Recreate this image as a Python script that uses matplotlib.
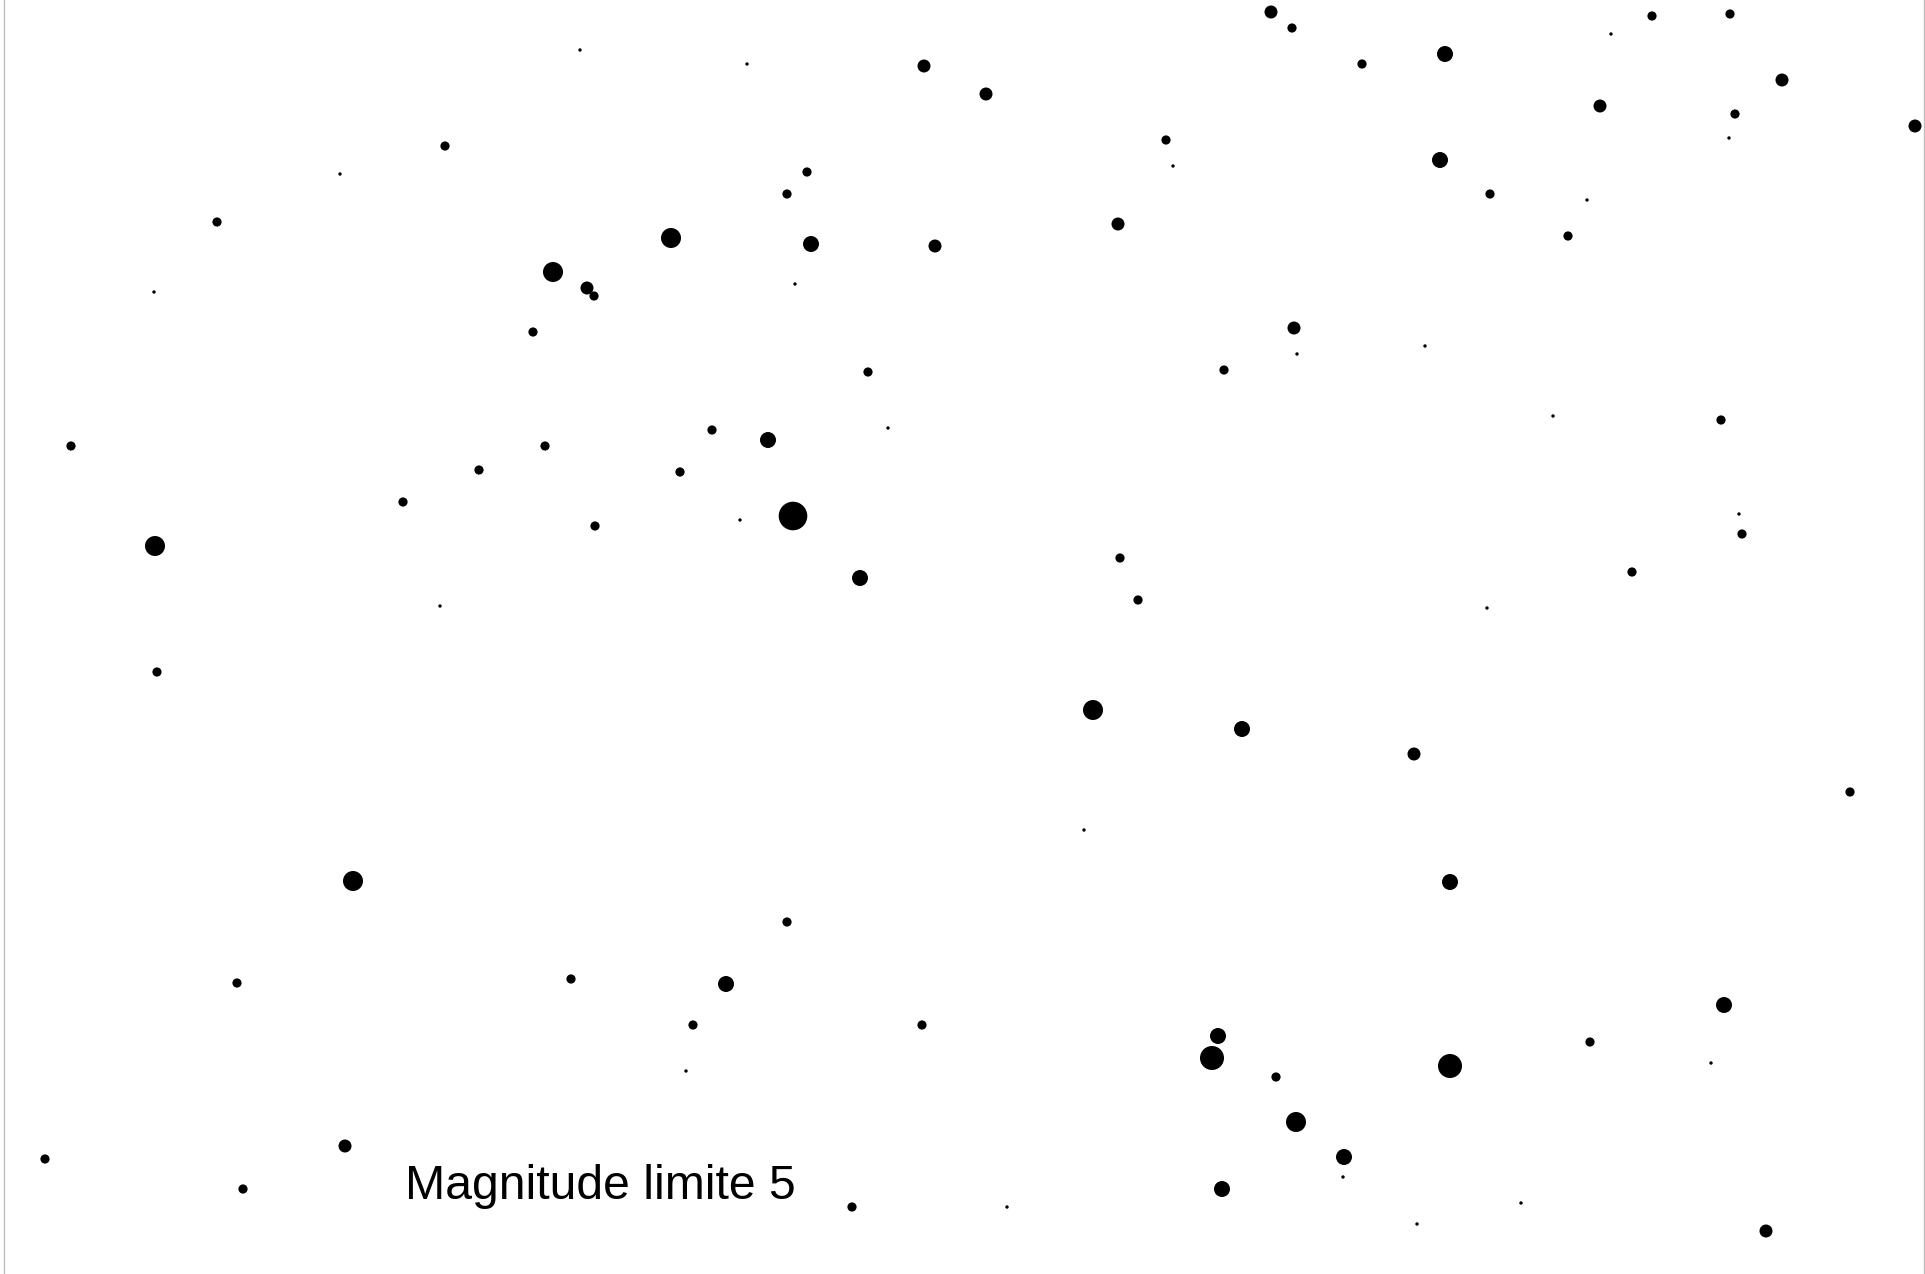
import numpy as np
import matplotlib
matplotlib.use("Agg")
import matplotlib.pyplot as plt

# Star positions (chart pixel coordinates, y downward) and magnitudes
star_x = [580, 445, 340, 217, 553, 587, 594, 154, 533, 71, 545, 479, 403, 595, 155, 440,
          1271, 747, 924, 986, 1166, 1173, 807, 787, 1118, 671, 811, 935, 795, 868, 1224, 712,
          768, 888, 680, 740, 793, 1120, 860, 1138,
          1292, 1362, 1445, 1611, 1652, 1730, 1782, 1600, 1735, 1729, 1915, 1440, 1490, 1587,
          1568, 1294, 1297, 1425, 1553, 1721, 1739, 1742, 1632, 1487,
          157, 353, 237, 571, 45, 345, 243,
          1093, 1242, 1084, 787, 726, 693, 922, 686, 1218, 1212, 1276, 1222, 852, 1007,
          1414, 1850, 1450, 1724, 1590, 1711, 1450, 1296, 1344, 1343, 1521, 1417, 1766]
star_y = [50, 146, 174, 222, 272, 288, 296, 292, 332, 446, 446, 470, 502, 526, 546, 606,
          12, 64, 66, 94, 140, 166, 172, 194, 224, 238, 244, 246, 284, 372, 370, 430,
          440, 428, 472, 520, 516, 558, 578, 600,
          28, 64, 54, 34, 16, 14, 80, 106, 114, 138, 126, 160, 194, 200,
          236, 328, 354, 346, 416, 420, 514, 534, 572, 608,
          672, 881, 983, 979, 1159, 1146, 1189,
          710, 729, 830, 922, 984, 1025, 1025, 1071, 1036, 1058, 1077, 1189, 1207, 1207,
          754, 792, 882, 1005, 1042, 1063, 1066, 1122, 1157, 1177, 1203, 1224, 1231]
star_mag = [5, 4, 5, 4, 1, 3, 4, 5, 4, 4, 4, 4, 4, 4, 1, 5,
            3, 5, 3, 3, 4, 5, 4, 4, 3, 1, 2, 3, 5, 4, 4, 4,
            2, 5, 4, 5, 0, 4, 2, 4,
            4, 4, 2, 5, 4, 4, 3, 3, 4, 5, 3, 2, 4, 5,
            4, 3, 5, 5, 5, 4, 5, 4, 4, 5,
            4, 1, 4, 4, 4, 3, 4,
            1, 2, 5, 4, 2, 4, 4, 5, 2, 0.5, 4, 2, 4, 5,
            3, 4, 2, 2, 4, 5, 0.5, 1, 2, 5, 5, 5, 3]

label_text = "Magnitude limite 5"

W, H = 1925, 1274
DPI = 100
fig = plt.figure(figsize=(W / DPI, H / DPI), dpi=DPI)
ax = fig.add_axes([0, 0, 1, 1])
ax.set_xlim(0, W)
ax.set_ylim(H, 0)
ax.axis("off")

mag_ref = [0, 0.5, 1, 2, 3, 4, 5]
diam_px = [28.6, 24, 20, 16, 13, 9.2, 3.4]
d = np.interp(np.array(star_mag, dtype=float), mag_ref, diam_px)
sizes = (d * 72.0 / DPI) ** 2

ax.scatter(star_x, star_y, s=sizes, c="black", marker="o", linewidths=0, zorder=3)

ax.axvline(3.5, color="#bdbdbd", lw=1.0)
ax.axvline(1923.5, color="#bdbdbd", lw=1.0)

ax.text(405, 1199, label_text, fontsize=34.7, family=["Liberation Sans", "DejaVu Sans"],
        color="black", ha="left", va="baseline")

fig.savefig("out.png", dpi=DPI, facecolor="white")
